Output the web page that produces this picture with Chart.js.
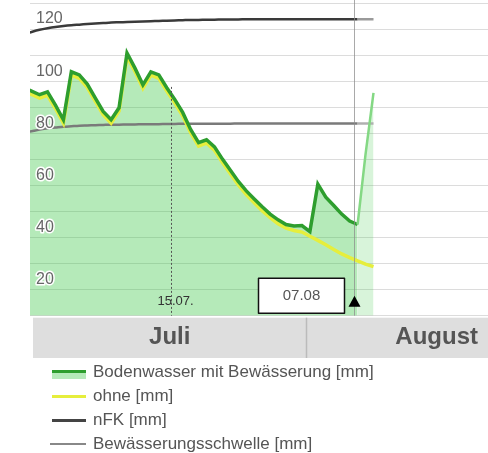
<!DOCTYPE html>
<html><head><meta charset="utf-8">
<script src="https://cdn.jsdelivr.net/npm/chart.js@4.4.1/dist/chart.umd.min.js"></script>
<style>
html,body{margin:0;padding:0;background:#fff;width:488px;height:453px;overflow:hidden;font-family:"Liberation Sans",Arial,sans-serif;}
#wrap{position:absolute;left:0;top:0;width:488px;height:358px;}
#legend{position:absolute;left:0;top:0;width:488px;height:453px;pointer-events:none;}
.item{position:absolute;left:0;height:24px;line-height:24px;font-size:17px;color:#555;white-space:nowrap;}
.sw{position:absolute;left:52px;width:34px;}
.txt{position:absolute;left:93px;top:0;}
</style></head>
<body>
<div id="wrap"><canvas id="c"></canvas></div>
<div id="legend"></div>
<script>
// ---- data ----
const dates = ['26.06.','27.06.','28.06.','29.06.','30.06.',
 '01.07.','02.07.','03.07.','04.07.','05.07.','06.07.','07.07.','08.07.','09.07.','10.07.',
 '11.07.','12.07.','13.07.','14.07.','15.07.','16.07.','17.07.','18.07.','19.07.','20.07.',
 '21.07.','22.07.','23.07.','24.07.','25.07.','26.07.','27.07.','28.07.','29.07.','30.07.','31.07.',
 '01.08.','02.08.','03.08.','04.08.','05.08.','06.08.','07.08.','08.08.','09.08.'];
const bodenwasser = [97.5,96.2,94.8,95.9,90.8,
 85.2,103.6,102.4,98.9,93.6,88.4,85.2,89.8,110.8,105.0,
 98.6,103.6,102.4,97.5,93.0,88.0,81.5,76.4,77.5,74.8,
 70.1,65.8,61.5,57.9,54.8,51.8,49.0,46.8,45.0,44.4,44.6,
 42.3,60.5,55.5,52.3,49.0,46.3,45.0,72.0,95.5];
const ohne = [96.2,94.9,93.5,94.6,89.5,
 83.9,102.3,101.1,97.6,92.3,87.1,83.9,88.5,109.5,103.7,
 97.3,102.3,101.1,96.2,91.7,86.7,80.2,75.1,76.2,73.5,
 68.8,64.5,60.2,56.5,53.3,50.3,47.6,45.3,43.6,42.7,42.1,
 40.5,38.9,37.2,35.4,33.7,32.3,31.0,29.8,28.8];
const nfk = [118.0,118.9,119.7,120.3,120.8,
 121.2,121.5,121.7,121.9,122.1,122.3,122.5,122.6,122.7,122.8,
 122.9,123.0,123.1,123.2,123.3,123.4,123.5,123.5,123.6,123.6,
 123.7,123.7,123.7,123.8,123.8,123.8,123.8,123.8,123.8,123.8,123.8,
 123.8,123.8,123.8,123.8,123.8,123.8,123.8,123.8,123.8];
const schwelle = [80.2,80.8,81.4,81.9,82.2,
 82.5,82.7,82.9,83.0,83.1,83.2,83.3,83.3,83.4,83.4,
 83.5,83.5,83.5,83.6,83.6,83.7,83.7,83.7,83.7,83.7,
 83.7,83.7,83.8,83.8,83.8,83.8,83.8,83.8,83.8,83.8,83.8,
 83.8,83.8,83.8,83.8,83.8,83.8,83.8,83.8,83.8];
const yTickLabels = [20,40,60,80,100,120];
const months = ['Juli','August'];
const monthStarts = ['01.07.','01.08.'];
const markerDate = '15.07.';
const todayDate = '07.08.';
const todayLabel = '07.08';
const seriesNames = ['Bodenwasser mit Bewässerung [mm]','ohne [mm]','nFK [mm]','Bewässerungsschwelle [mm]'];

// day number relative to 30.06. (= 0)
function dayNum(s){
  const [dd,mm] = s.split('.').map(Number);
  if (mm === 6) return dd - 30;
  if (mm === 7) return dd;
  return 31 + dd;
}
const pts = arr => arr.map((v,i)=>({x: dayNum(dates[i]), y: v}));
const todayDay = dayNum(todayDate);
const after = (c) => c.p0.parsed.x >= todayDay;

const FONT = '"Liberation Sans", Arial, sans-serif';

const decor = {
  id: 'decor',
  beforeDraw(chart){ chart.ctx.lineJoin = 'round'; },
  afterDatasetsDraw(chart){
    const {ctx, chartArea:a, scales:{x,y}} = chart;
    ctx.save();
    // 15.07. dashed marker
    const px1 = Math.round(x.getPixelForValue(dayNum(markerDate) - 0.5)) + 0.5;
    ctx.strokeStyle = '#555'; ctx.lineWidth = 1; ctx.setLineDash([2,2]);
    ctx.beginPath(); ctx.moveTo(px1, y.getPixelForValue(97.8)); ctx.lineTo(px1, a.bottom); ctx.stroke();
    ctx.setLineDash([]);
    ctx.font = '13px ' + FONT; ctx.fillStyle = '#333'; ctx.textAlign = 'center'; ctx.textBaseline = 'middle';
    ctx.fillText(markerDate, px1 + 4, a.bottom - 14);
    // today line
    const px2 = Math.round(x.getPixelForValue(todayDay - 0.5)) + 0.5;
    ctx.strokeStyle = 'rgba(140,140,140,0.75)'; ctx.lineWidth = 1;
    ctx.beginPath(); ctx.moveTo(px2, 0); ctx.lineTo(px2, a.bottom); ctx.stroke();
    // date box
    const bw = 86, bh = 35, bx = px2 - 10 - bw, by = a.bottom - 37.5;
    ctx.fillStyle = '#fff'; ctx.fillRect(bx, by, bw, bh);
    ctx.strokeStyle = '#111'; ctx.lineWidth = 1.5; ctx.strokeRect(bx, by, bw, bh);
    ctx.font = '15px ' + FONT; ctx.fillStyle = '#555';
    ctx.fillText(todayLabel, bx + bw/2, by + bh/2);
    // triangle
    ctx.fillStyle = '#000';
    ctx.beginPath(); ctx.moveTo(px2, a.bottom - 20); ctx.lineTo(px2 + 6, a.bottom - 9); ctx.lineTo(px2 - 6, a.bottom - 9); ctx.closePath(); ctx.fill();
    // month band
    const top = a.bottom + 2, bottom = 358;
    ctx.fillStyle = '#dedede'; ctx.fillRect(33, top, a.right - 33, bottom - top);
    const sep = Math.round(x.getPixelForValue(dayNum(monthStarts[1]) - 0.5)) + 0.5;
    ctx.strokeStyle = '#bbb'; ctx.lineWidth = 1.5;
    ctx.beginPath(); ctx.moveTo(sep, top); ctx.lineTo(sep, bottom); ctx.stroke();
    ctx.font = 'bold 24px ' + FONT; ctx.fillStyle = '#555'; ctx.textBaseline = 'middle';
    ctx.textAlign = 'center'; ctx.fillText(months[0], (33 + sep)/2, (top + bottom)/2);
    ctx.textAlign = 'right'; ctx.fillText(months[1], a.right - 10, (top + bottom)/2);
    ctx.restore();
  }
};

new Chart(document.getElementById('c'), {
  type: 'line',
  data: {
    datasets: [
      { label: seriesNames[0], data: pts(bodenwasser), borderColor: '#2e9e2e', borderWidth: 3.5,
        backgroundColor: 'rgba(60,200,70,0.38)', fill: 'start', tension: 0,
        segment: { borderColor: c => after(c) ? '#84d884' : undefined,
                   borderWidth: c => after(c) ? 2.5 : undefined,
                   backgroundColor: c => after(c) ? 'rgba(60,200,70,0.2)' : undefined } },
      { label: seriesNames[1], data: pts(ohne), borderColor: '#e6ee3c', borderWidth: 3.5, fill: false, tension: 0 },
      { label: seriesNames[2], data: pts(nfk), borderColor: '#3a3a3a', borderWidth: 2.5, fill: false,
        cubicInterpolationMode: 'monotone',
        segment: { borderColor: c => after(c) ? '#9a9a9a' : undefined } },
      { label: seriesNames[3], data: pts(schwelle), borderColor: '#7a7a7a', borderWidth: 2.5, fill: false,
        cubicInterpolationMode: 'monotone',
        segment: { borderColor: c => after(c) ? '#b0b0b0' : undefined } }
    ]
  },
  options: {
    responsive: true, maintainAspectRatio: false, animation: false,
    layout: { padding: { left: 18, right: 0, top: 3, bottom: 42.3 }, autoPadding: false },
    elements: { point: { radius: 0 } },
    plugins: { legend: { display: false }, tooltip: { enabled: false },
               filler: { drawTime: 'beforeDatasetsDraw' } },
    scales: {
      x: { type: 'linear', min: -3.2, max: 54.4, display: false },
      y: { min: 10, max: 130,
           grid: { color: '#dcdcdc', lineWidth: 1, drawTicks: false },
           border: { display: false },
           afterFit: s => { s.paddingTop = 0; s.paddingBottom = 0; },
           ticks: { stepSize: 10, mirror: true, padding: 6, labelOffset: -10, z: 1,
                    color: '#666', font: { size: 16, family: FONT },
                    textStrokeColor: '#fff', textStrokeWidth: 3,
                    callback: v => yTickLabels.includes(v) ? String(v) : '' } }
    }
  },
  plugins: [decor]
});

// legend
const legendDef = [
  { cy: 372, sw: '<div style="height:3px;background:#2e9e2e"></div><div style="height:6px;background:#b5eab9"></div>', h: 9 },
  { cy: 396, sw: '<div style="height:3px;background:#e6ee3c"></div>', h: 3 },
  { cy: 420, sw: '<div style="height:3px;background:#444"></div>', h: 3 },
  { cy: 444, sw: '<div style="height:2px;background:#888;margin-left:-2px"></div>', h: 2 }
];
const lg = document.getElementById('legend');
legendDef.forEach((d, i) => {
  const it = document.createElement('div');
  it.className = 'item'; it.style.top = (d.cy - 12) + 'px';
  it.innerHTML = '<div class="sw" style="top:' + (i === 0 ? 10 : 12 - d.h/2) + 'px">' + d.sw + '</div><span class="txt">' + seriesNames[i] + '</span>';
  lg.appendChild(it);
});
</script>
</body></html>
